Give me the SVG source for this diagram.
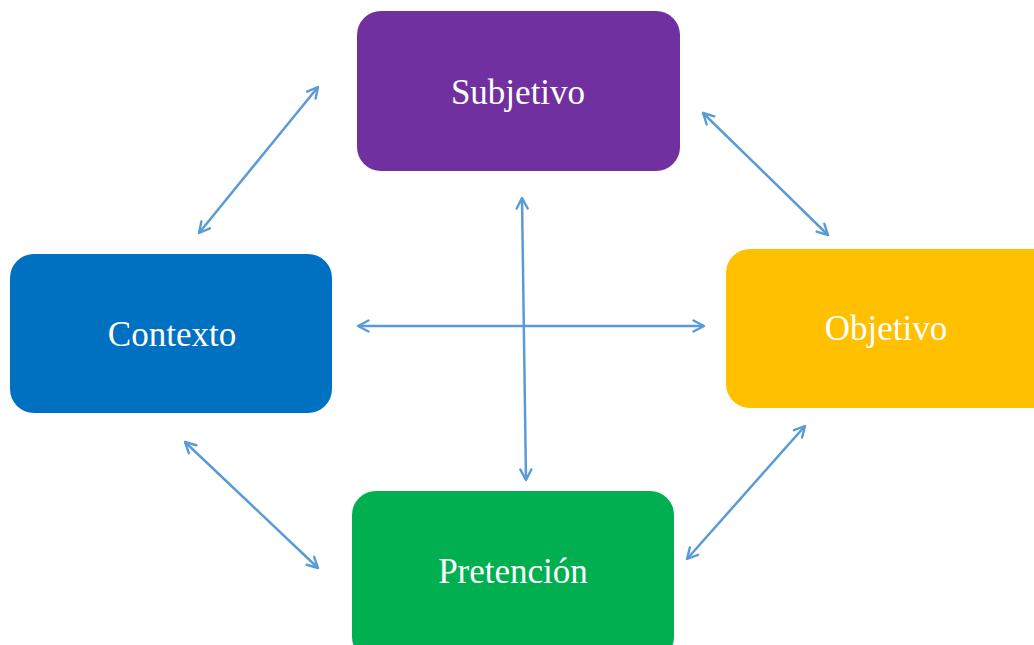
<svg xmlns="http://www.w3.org/2000/svg" width="1034" height="645" viewBox="0 0 1034 645">
<defs>
<marker id="ah" viewBox="0 0 14 14" refX="12" refY="7" markerWidth="14" markerHeight="14" markerUnits="userSpaceOnUse" orient="auto-start-reverse">
<path d="M1.5,1.5 L12,7 L1.5,12.5" fill="none" stroke="#5B9BD5" stroke-width="2.4" stroke-linecap="round" stroke-linejoin="round"/>
</marker>
<style>
.box{stroke:none}
.lbl{font-family:"Liberation Serif","Times New Roman",serif;font-size:35px;fill:#ffffff;text-anchor:middle;dominant-baseline:central}
.c{stroke:#5B9BD5;stroke-width:2.5;fill:none;marker-start:url(#ah);marker-end:url(#ah)}
</style>
</defs>
<rect width="1034" height="645" fill="#ffffff"/>
<g id="connectors">
<line class="c" x1="318" y1="87" x2="199" y2="233"/>
<line class="c" x1="703" y1="113" x2="828" y2="235"/>
<line class="c" x1="358" y1="326" x2="704" y2="326"/>
<line class="c" x1="522" y1="198" x2="526" y2="480"/>
<line class="c" x1="185" y1="442" x2="318" y2="568"/>
<line class="c" x1="805" y1="426" x2="687" y2="559"/>
</g>
<g id="subjetivo">
<rect class="box" x="357" y="11" width="323" height="160" rx="24" fill="#7030A0"/>
<text class="lbl" x="518" y="92">Subjetivo</text>
</g>
<g id="contexto">
<rect class="box" x="10" y="254" width="322" height="159" rx="24" fill="#0070C0"/>
<text class="lbl" x="172" y="334">Contexto</text>
</g>
<g id="objetivo">
<rect class="box" x="726" y="249" width="330" height="159" rx="24" fill="#FFC000"/>
<text class="lbl" x="886" y="328">Objetivo</text>
</g>
<g id="pretencion">
<rect class="box" x="352" y="491" width="322" height="170" rx="24" fill="#00B050"/>
<text class="lbl" x="513" y="571">Pretención</text>
</g>
</svg>
